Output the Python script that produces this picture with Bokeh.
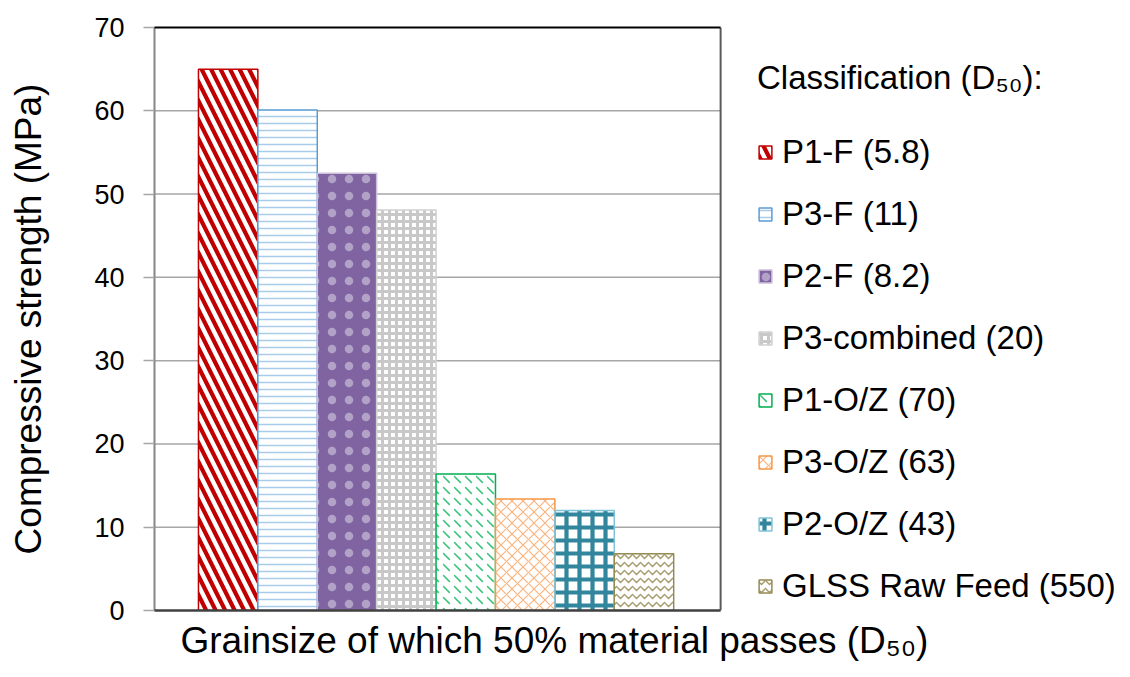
from bokeh.plotting import figure
from bokeh.models import Range1d, Legend, LegendItem, Span, FixedTicker, Title
from bokeh.embed import file_html
from bokeh.resources import INLINE

# ---- data -------------------------------------------------------------
classes = ["P1-F (5.8)", "P3-F (11)", "P2-F (8.2)", "P3-combined (20)",
           "P1-O/Z (70)", "P3-O/Z (63)", "P2-O/Z (43)", "GLSS Raw Feed (550)"]
strength = [65.0, 60.1, 52.5, 48.1, 16.4, 13.4, 12.0, 6.8]
y_ticks = [0, 10, 20, 30, 40, 50, 60, 70]

FONT = "Liberation Sans"

# ---- per-series fill styles ------------------------------------------
styles = [
    dict(fill_color="white", line_color="#C00000", hatch_color="#C00000",
         hatch_pattern="\\", hatch_scale=19, hatch_weight=4.2),
    dict(fill_color="white", line_color="#5B9BD5", hatch_color="#A9CBEA",
         hatch_pattern="-", hatch_scale=7, hatch_weight=1.5),
    dict(fill_color="#8064A2", line_color="#CCC0DA", hatch_color="#FFFFFF",
         hatch_pattern=".", hatch_scale=17, hatch_weight=1, hatch_alpha=0.4),
    dict(fill_color="white", line_color="#D0D0D0", hatch_color="#C8C8C8",
         hatch_pattern="+", hatch_scale=7, hatch_weight=3),
    dict(fill_color="white", line_color="#00B050", hatch_color="#3CC47C",
         hatch_pattern="`", hatch_scale=11, hatch_weight=1.6),
    dict(fill_color="white", line_color="#F79646", hatch_color="#FAB47E",
         hatch_pattern="x", hatch_scale=11, hatch_weight=1.2),
    dict(fill_color="white", line_color="#7FC3DA", hatch_color="#31859C",
         hatch_pattern="+", hatch_scale=13, hatch_weight=4.2),
    dict(fill_color="white", line_color="#948A54", hatch_color="#A39A6A",
         hatch_pattern="v", hatch_scale=8, hatch_weight=1.4),
]

# The bar area covers x in [X_LO, X_HI]; the frame continues to the right
# to hold the legend, so borders and grid are drawn only over the bar area.
X_LO, X_HI = -1.24, 8.29
X_END = 15.19
Y_LO, Y_HI = y_ticks[0], y_ticks[-1]

p = figure(width=1130, height=677, x_range=Range1d(X_LO, X_END),
           y_range=Range1d(Y_LO, Y_HI), output_backend="svg",
           toolbar_location=None,
           min_border_left=154, min_border_right=0, min_border_top=27,
           min_border_bottom=67)

p.background_fill_color = "white"
p.border_fill_color = "white"
p.outline_line_color = None

# grid (horizontal lines across the bar area only)
p.xgrid.grid_line_color = None
p.ygrid.grid_line_color = None
p.segment(x0=X_LO, x1=X_HI, y0=y_ticks[1:-1], y1=y_ticks[1:-1],
          line_color="#A6A6A6", line_width=1.5, level="underlay")

# y axis
p.yaxis.ticker = FixedTicker(ticks=y_ticks)
p.yaxis.axis_line_color = "#868686"
p.yaxis.axis_line_width = 2
p.yaxis.major_tick_line_color = "#A6A6A6"
p.yaxis.major_tick_line_width = 1.5
p.yaxis.major_tick_out = 11
p.yaxis.major_tick_in = 0
p.yaxis.minor_tick_line_color = None
p.yaxis.major_label_text_font = FONT
p.yaxis.major_label_text_font_size = "27px"
p.yaxis.major_label_text_color = "black"
p.yaxis.major_label_standoff = 19
p.yaxis.axis_label = "Compressive strength (MPa)"
p.yaxis.axis_label_text_font = FONT
p.yaxis.axis_label_text_font_size = "37px"
p.yaxis.axis_label_text_font_style = "normal"
p.yaxis.axis_label_text_color = "black"
p.yaxis.axis_label_standoff = 42

# x axis carries only the title; its baseline is drawn over the bar area
p.xaxis.ticker = FixedTicker(ticks=[])
p.xaxis.axis_line_color = None
p.xaxis.major_tick_line_color = None
p.xaxis.minor_tick_line_color = None
p.xaxis.major_label_text_font_size = "0px"

p.add_layout(Title(text="Grainsize of which 50% material passes (D\u2085\u2080)",
                   align="left", offset=26, standoff=14,
                   text_font=FONT, text_font_size="37px",
                   text_font_style="normal", text_color="black"), "below")

# plot-area borders
p.segment(x0=[X_LO], x1=[X_HI], y0=[Y_HI], y1=[Y_HI], line_color="black",
          line_width=2, level="overlay")
p.segment(x0=[X_LO], x1=[X_HI], y0=[Y_LO], y1=[Y_LO], line_color="#404040",
          line_width=2.5, level="overlay")
p.add_layout(Span(location=X_HI, dimension="height", line_color="#5A5A5A",
                  line_width=2))

items = []
for i, (name, val, st) in enumerate(zip(classes, strength, styles)):
    r = p.vbar(x=[i], top=[val], bottom=0, width=1.0, line_width=1.5, **st)
    items.append(LegendItem(label=name, renderers=[r]))

legend = Legend(items=items, location=(603, 5), orientation="vertical",
                title="Classification (D\u2085\u2080):",
                title_text_font=FONT, title_text_font_size="33px",
                title_text_font_style="normal", title_text_color="black",
                title_standoff=36,
                label_text_font=FONT, label_text_font_size="33px",
                label_text_color="black", label_standoff=9,
                glyph_width=16, glyph_height=16, spacing=24,
                margin=0, padding=0, border_line_color=None,
                background_fill_alpha=0)
p.add_layout(legend)

with open("out.html", "w") as f:
    f.write(file_html(p, INLINE))
